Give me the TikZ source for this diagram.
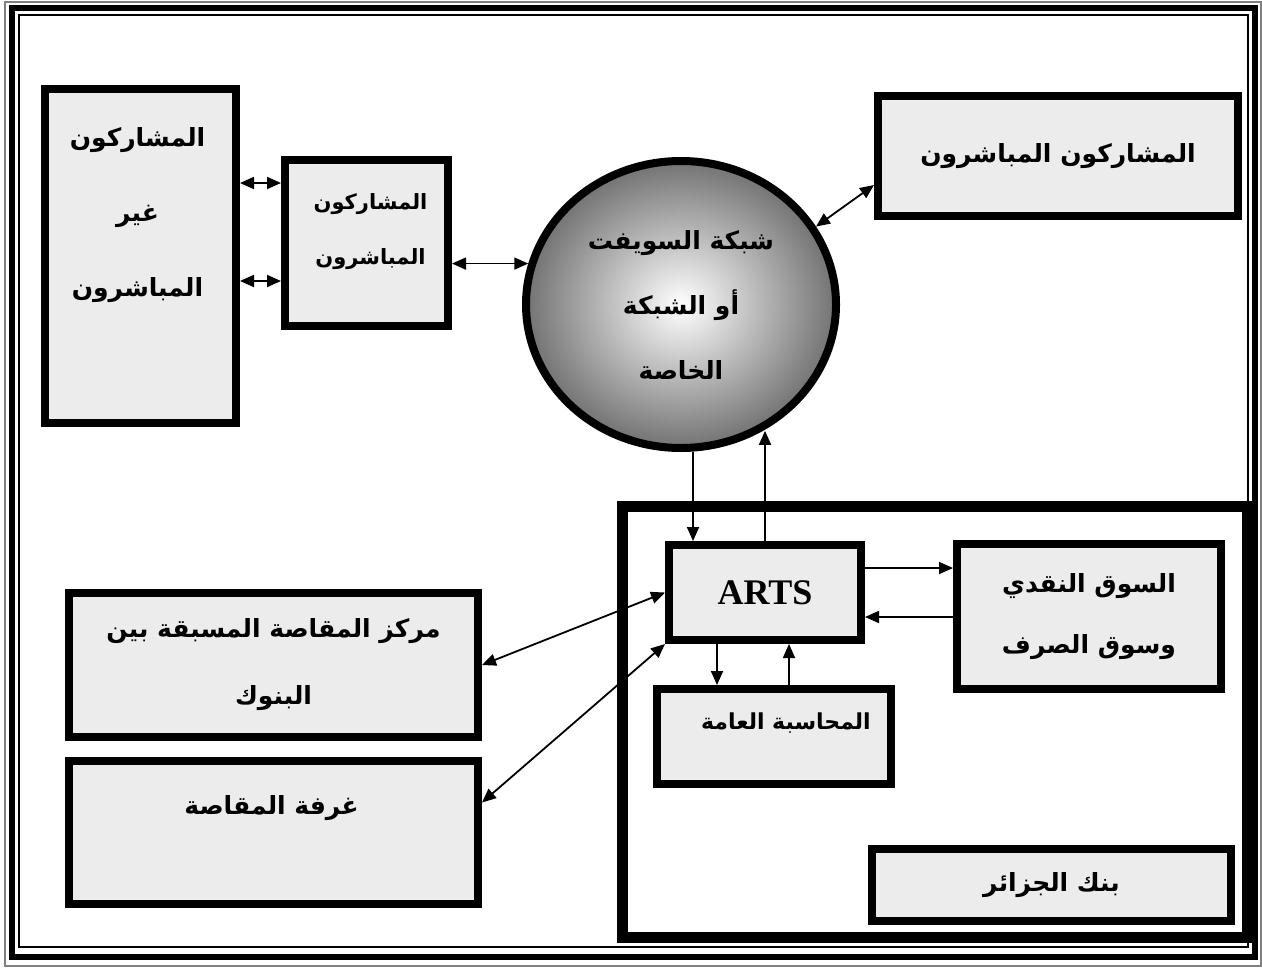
\documentclass[tikz,border=0pt]{standalone}
\usepackage{fontspec}
\setmainfont{Liberation Serif}
\newfontfamily\arabicfont[Script=Arabic]{DejaVu Sans}
\TeXXeTstate=1
\usetikzlibrary{arrows.meta,shapes.geometric,calc}
\newcommand\artxt[1]{\beginR#1\endR}

\begin{document}
\begin{tikzpicture}[x=0.5pt,y=-0.5pt,
    marble/.style={draw,line width=4pt,fill=gray!15,inner sep=0pt},
    artext/.style 2 args={font=\arabicfont\bfseries\fontsize{#1}{#2}\selectfont,align=center,inner sep=0pt},
    link/.style={line width=0.9pt,-{Triangle[length=7pt,width=6pt]}},
    link2/.style={line width=0.9pt,{Triangle[length=7pt,width=6pt]}-{Triangle[length=7pt,width=6pt]}}]
  \useasboundingbox (0,0) rectangle (1262,969);
  % page frame
  \draw[gray,line width=0.8pt] (5,2) rectangle (1261,966);
  \draw[line width=3pt] (11.5,7.5) rectangle (1255,957);
  \draw[line width=1.2pt] (19,15) rectangle (1248,947);
  % bank of algeria
  \node[draw,line width=5.5pt,minimum width=312.5pt,minimum height=215.5pt,inner sep=0pt] (bank) at (935,722) {};
  \node[marble,minimum width=179.5pt,minimum height=36pt,artext={12.5}{20}] (bankName) at (1051.5,885) {\artxt{بنك الجزائر}};
  % participants
  \node[marble,minimum width=95.5pt,minimum height=167pt] (indirect) at (140.5,256) {};
  \node[artext={12.5}{37.5}] (indirectTxt) at ($(indirect.center)+(-3,-41)$) {\artxt{المشاركون}\\\artxt{غير}\\\artxt{المباشرون}};
  \node[marble,minimum width=81.5pt,minimum height=83pt] (direct) at (366.5,243) {};
  \node[artext={10.5}{27.5}] (directTxt) at ($(direct.center)+(4,-11)$) {\artxt{المشاركون}\\\artxt{المباشرون}};
  \node[marble,minimum width=180pt,minimum height=60pt,artext={12.5}{20}] (directR) at (1058,156) {\artxt{المشاركون المباشرون}};
  % network
  \node[ellipse,draw,line width=4pt,inner color=white,outer color=black!55,minimum width=155pt,minimum height=143.5pt,artext={12.5}{32.5}] (swift) at (681,304.5) {\artxt{شبكة السويفت}\\\artxt{أو الشبكة}\\\artxt{الخاصة}};
  % inside the bank
  \node[marble,minimum width=96pt,minimum height=47.5pt,font=\bfseries\fontsize{18}{20}\selectfont] (arts) at (765,592.5) {ARTS};
  \node[marble,minimum width=132pt,minimum height=72.5pt,artext={12.5}{30.5}] (money) at (1089,616.5) {\artxt{السوق النقدي}\\\artxt{وسوق الصرف}};
  \node[marble,minimum width=117pt,minimum height=47.5pt] (acc) at (774,736.5) {};
  \node[artext={11}{20}] (accTxt) at ($(acc.center)+(12,-13)$) {\artxt{المحاسبة العامة}};
  % clearing
  \node[marble,minimum width=204.5pt,minimum height=72pt,artext={12.5}{33.5}] (clearC) at (273.5,665) {\artxt{مركز المقاصة المسبقة بين}\\\artxt{البنوك}};
  \node[marble,minimum width=204.5pt,minimum height=71.5pt] (clearR) at (273.5,832.5) {};
  \node[artext={12.5}{20}] (clearRTxt) at ($(clearR.center)+(-2,-24)$) {\artxt{غرفة المقاصة}};
  % links
  \coordinate (upA) at ($(indirect.east)+(0,-73)$);
  \coordinate (lowA) at ($(indirect.east)+(0,25)$);
  \draw[link2] (upA) -- (upA -| direct.west);
  \draw[link2] (lowA) -- (lowA -| direct.west);
  \draw[link2] (direct.east |- swift.165) -- (swift.165);
  \draw[link2] ($(directR.west)+(0,29)$) -- (swift.30);
  \coordinate (swIn) at ($(arts.north west)+(28,0)$);
  \draw[link] (swIn |- swift.south) -- (swIn);
  \draw[link] (arts.north) -- (arts.north |- swift.303);
  \coordinate (toMoney) at ($(arts.east)+(0,-24.5)$);
  \coordinate (fromMoney) at ($(arts.east)+(0,24.5)$);
  \draw[link] (toMoney) -- (toMoney -| money.west);
  \draw[link] (fromMoney -| money.west) -- (fromMoney);
  \coordinate (toAcc) at ($(arts.south)+(-48,0)$);
  \coordinate (fromAcc) at ($(arts.south)+(24,0)$);
  \draw[link] (toAcc) -- (toAcc |- acc.north);
  \draw[link] (fromAcc |- acc.north) -- (fromAcc);
  \draw[link2] (clearC.east) -- (arts.west);
  \draw[link2] ($(clearR.east)+(0,-30)$) -- (arts.south west);
\end{tikzpicture}
\end{document}
